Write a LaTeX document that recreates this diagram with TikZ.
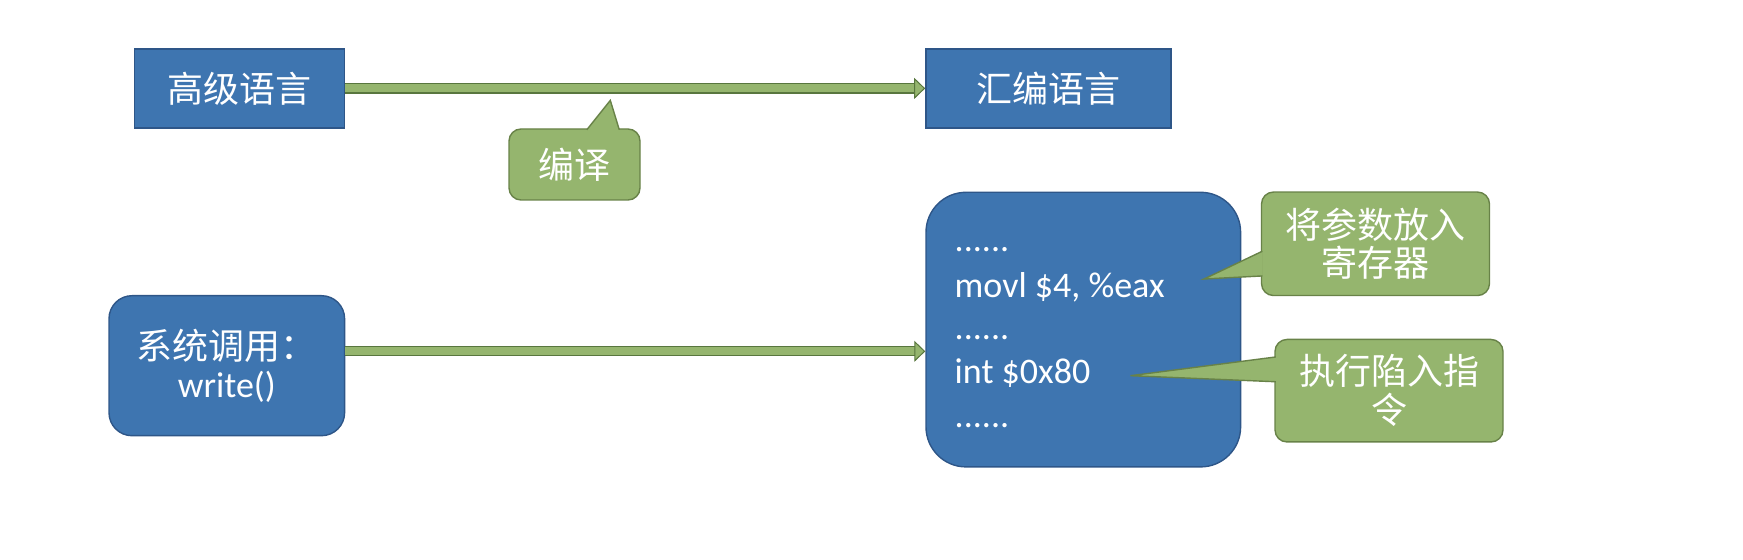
\documentclass[tikz,border=0pt]{standalone}
\usepackage{fontspec}
\setmainfont{Carlito}
\newfontfamily\cjk{Noto Sans CJK SC}
\usetikzlibrary{arrows.meta,calc}
\definecolor{boxblue}{RGB}{62,117,176}
\definecolor{boxline}{RGB}{46,86,136}
\definecolor{notegreen}{RGB}{149,181,110}
\definecolor{noteline}{RGB}{104,130,72}
\definecolor{flowline}{RGB}{88,118,62}
\tikzset{
  block/.style={draw=boxline, line width=0.7pt, fill=boxblue, text=white, inner sep=0pt, font=\cjk\fontsize{18}{21.6}\selectfont},
  roundblock/.style={block, rounded corners=#1},
  note/.style={draw=noteline, line width=0.7pt, fill=notegreen, text=white, rounded corners=6pt, align=center, inner sep=0pt, font=\cjk\fontsize{18}{19.4}\selectfont},
  pointer/.style={draw=noteline, line width=0.7pt, fill=notegreen, line join=miter},
  code/.style={anchor=base west, text=white, inner sep=0pt, font=\fontsize{18}{21.6}\selectfont},
  flow/.style={draw=notegreen, line width=4pt, -{Triangle[length=5.5pt, width=10.5pt, fill=notegreen, color=flowline, line width=0.5pt]}, preaction={draw=flowline, line width=5.2pt, shorten >=5pt, arrows=-}}
}
\begin{document}
\begin{tikzpicture}[x=0.5pt, y=-0.5pt]
\useasboundingbox (0,0) rectangle (1743,560);

\node[block, minimum width=105pt, minimum height=39.5pt] (gaoji) at (239.6,88.4) {高级语言};
\node[block, minimum width=122.5pt, minimum height=39.5pt] (huibian) at (1048.4,88.4) {汇编语言};
\draw[flow] (gaoji.east) -- (huibian.west);

\node[note, minimum width=65.5pt, minimum height=35.5pt] (bianyi) at (574.5,164.5) {编译};
\coordinate (tip0) at (610.3,100.4);
\filldraw[pointer] ($(bianyi.north west)+(78.5,1.5)$) -- (tip0) -- ($(bianyi.north west)+(111,1.5)$);

\node[roundblock=11.5pt, minimum width=117.8pt, minimum height=70pt, align=center, font=\fontsize{18}{19}\selectfont] (syscall) at (226.8,365.7) {{\cjk 系统调用：}\\write()};

\node[roundblock=20pt, minimum width=157.3pt, minimum height=137.3pt] (asm) at (1083.3,329.6) {};
\node[code] (dots1) at (954.3,251.9) {......};
\node[code] (movl) at (954.3,297.1) {movl \$4, \%eax};
\node[code] (dots2) at (954.3,339.5) {......};
\node[code] (int) at (954.3,383.2) {int \$0x80};
\node[code] (dots3) at (954.3,427.2) {......};
\draw[flow] ([yshift=7.2pt]syscall.east) -- ([yshift=7.2pt]syscall.east -| asm.west);

\node[note, minimum width=114pt, minimum height=51.75pt] (canshu) at (1375.5,243.8) {将参数放入\\寄存器};
\coordinate (tip1) at (1204,279);
\filldraw[pointer] ($(canshu.north west)+(1.5,59.9)$) -- (tip1) -- ($(canshu.north west)+(1.5,84.6)$);

\node[note, minimum width=114pt, minimum height=51.25pt] (xianru) at (1389,390.7) {执行陷入指\\令};
\coordinate (tip2) at (1130.5,375.7);
\filldraw[pointer] ($(xianru.north west)+(1.5,18.2)$) -- (tip2) -- ($(xianru.north west)+(1.5,43)$);
\end{tikzpicture}
\end{document}
